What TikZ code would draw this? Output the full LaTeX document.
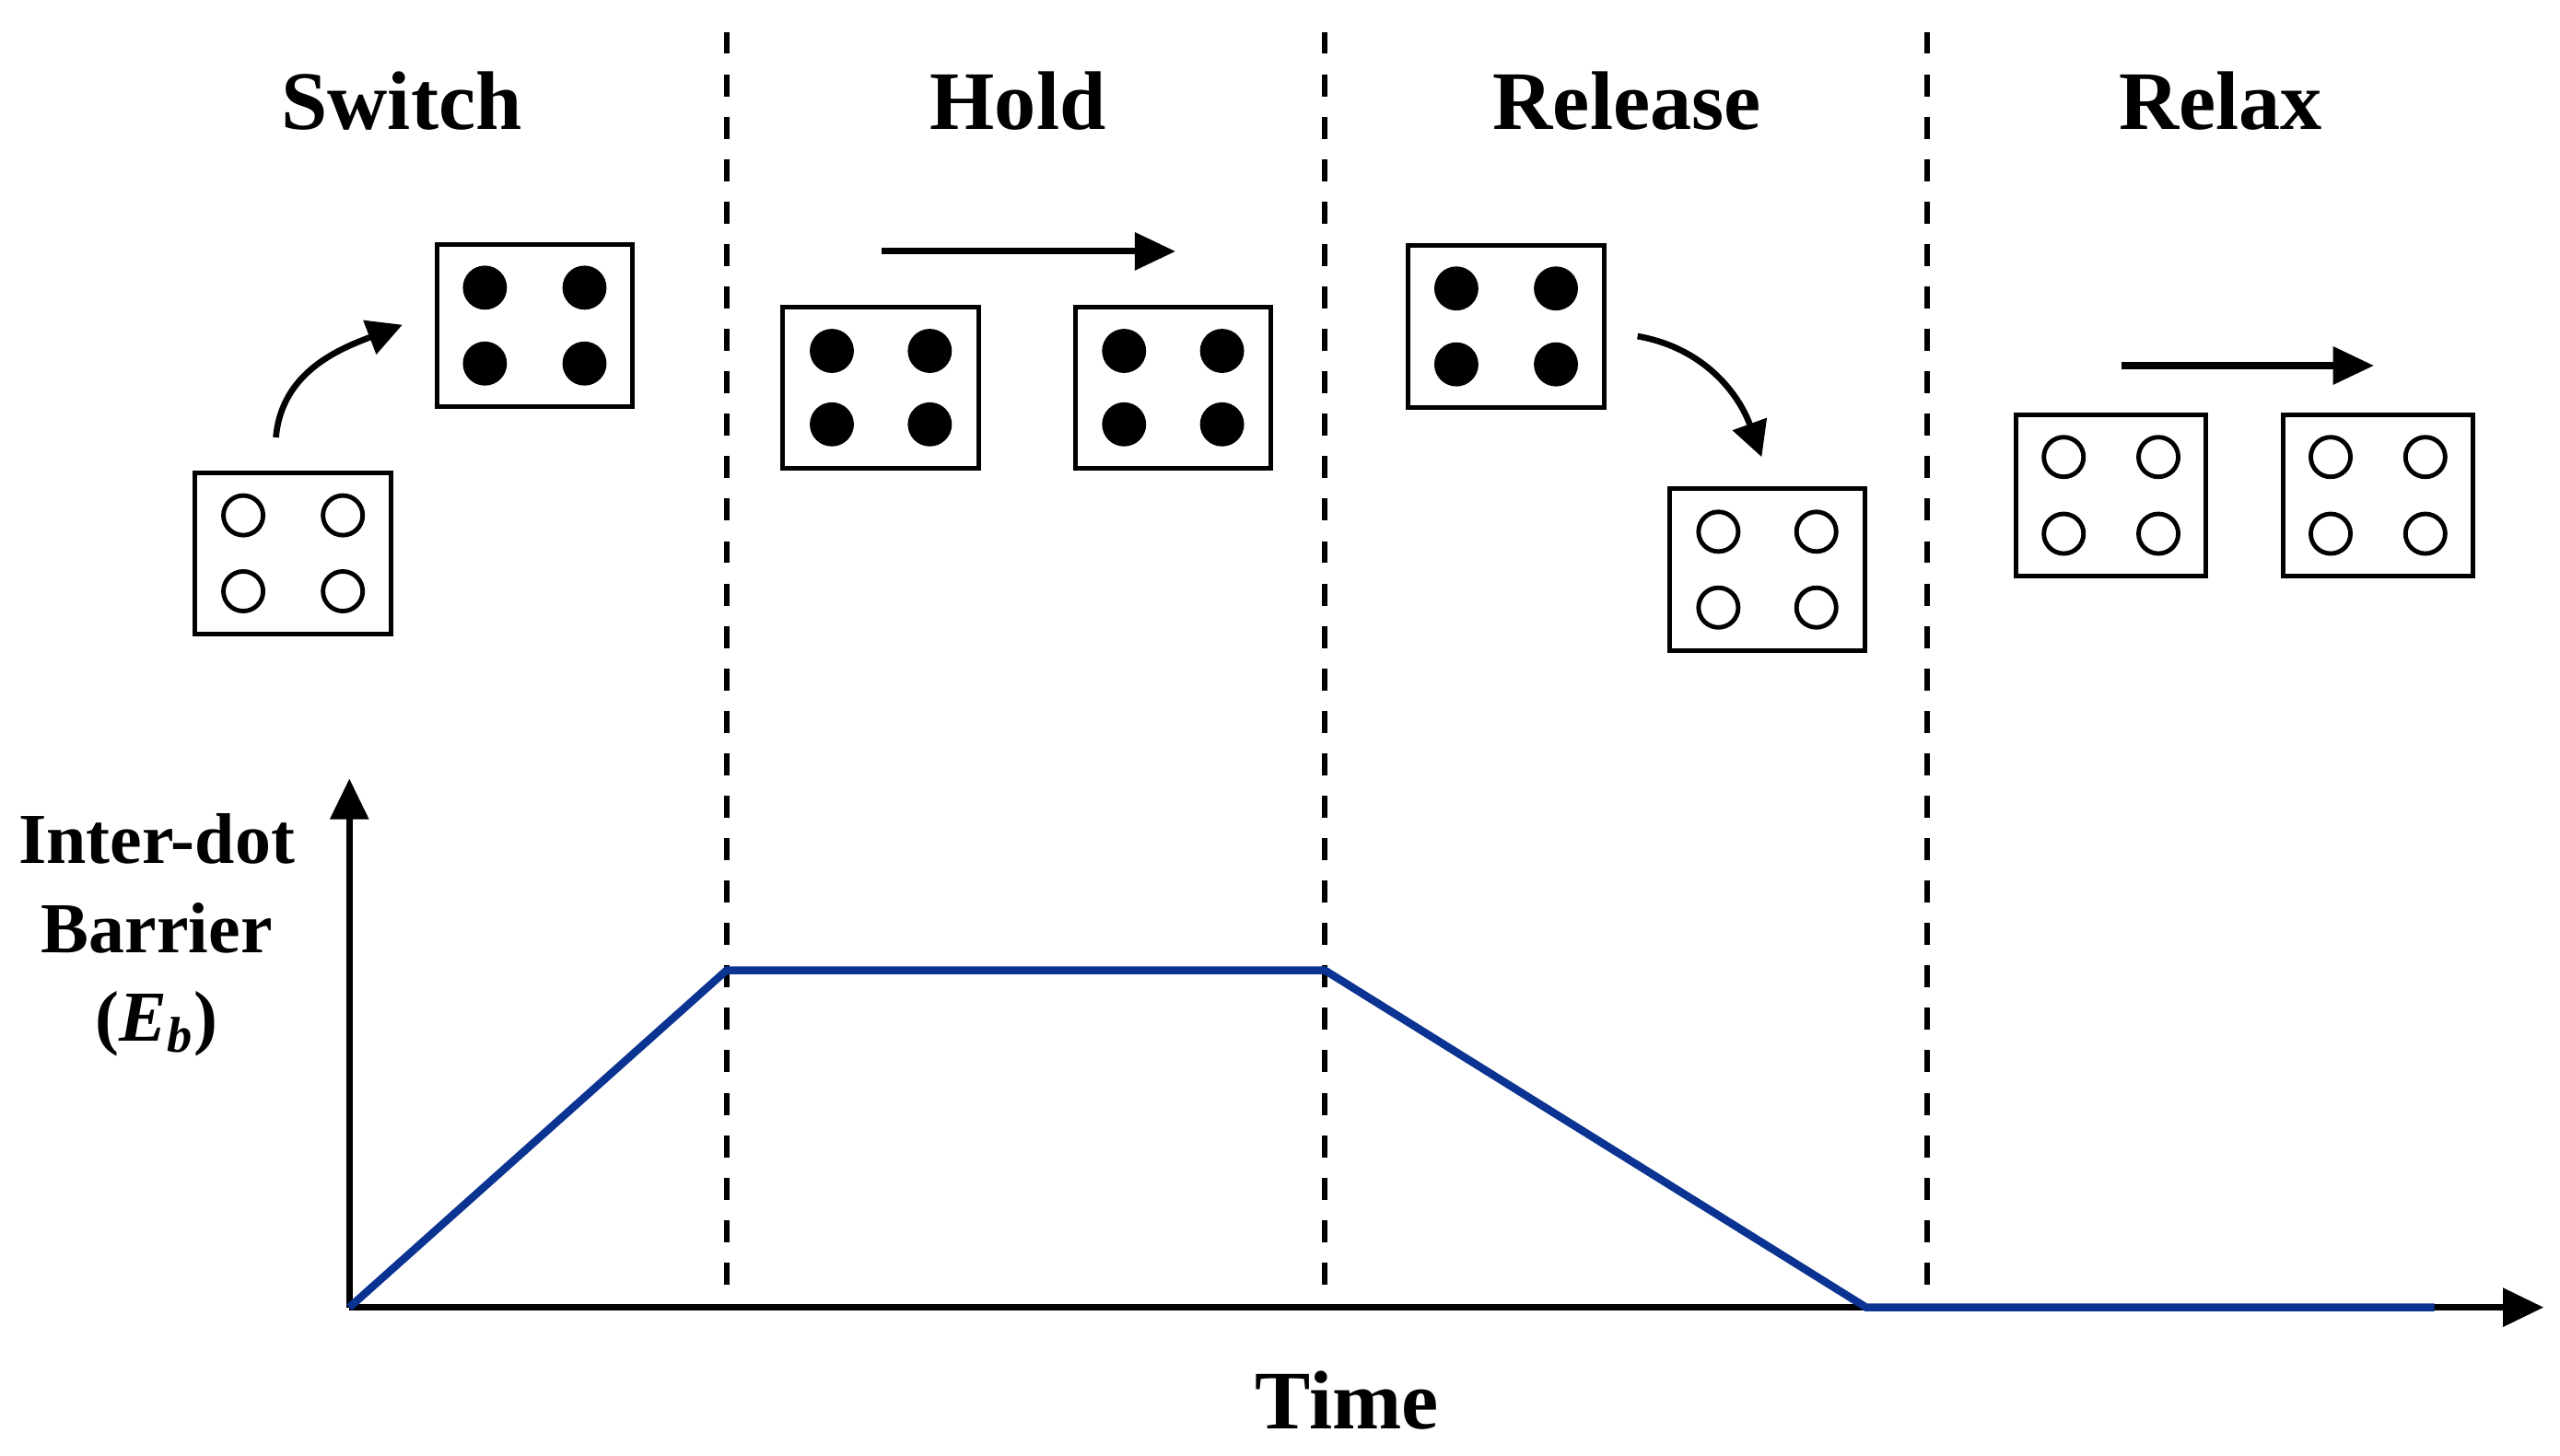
\documentclass[tikz,border=0pt]{standalone}
\usepackage{fontspec}
\setmainfont{Liberation Serif}
\usetikzlibrary{calc,arrows.meta}
\definecolor{ink}{HTML}{000000}
\definecolor{barrierblue}{HTML}{0B3391}
\tikzset{
  dotbox/.style={
    draw=ink,
    line width=0.056cm,
    minimum width=2.40cm,
    minimum height=1.98cm,
    inner sep=0pt
  },
  slimbox/.style={
    dotbox,
    minimum width=2.32cm
  },
  fulldot/.style={
    fill=ink,
    radius=0.27cm
  },
  emptydot/.style={
    draw=ink,
    line width=0.055cm,
    radius=0.243cm
  },
  phasetitle/.style={
    font=\bfseries\fontsize{29}{34}\selectfont,
    text=ink
  },
  axislabel/.style={
    font=\bfseries\fontsize{25}{31}\selectfont,
    text=ink,
    align=center
  },
  phaseline/.style={
    draw=ink,
    line width=0.065cm,
    dash pattern=on 0.27cm off 0.25cm
  },
  axisline/.style={
    draw=ink,
    line width=0.08cm,
    -{Triangle[length=0.5cm,width=0.46cm]}
  },
  movearrow/.style={
    draw=ink,
    line width=0.08cm,
    -{Triangle[length=0.5cm,width=0.45cm]}
  },
  turnarrow/.style={
    draw=ink,
    line width=0.075cm,
    -{Triangle[length=0.43cm,width=0.43cm]}
  },
  barrier/.style={
    draw=barrierblue,
    line width=0.095cm
  }
}

\begin{document}
\begin{tikzpicture}[x=1cm,y=1cm]

% Background
\fill[white] (0,0) rectangle (31.36,17.84);
\useasboundingbox (0,0) rectangle (31.36,17.84);

% Phase titles
\node[phasetitle] (tSwitch)  at (4.92,16.60)  {Switch};
\node[phasetitle] (tHold)    at (12.47,16.60) {Hold};
\node[phasetitle] (tRelease) at (19.93,16.60) {Release};
\node[phasetitle] (tRelax)   at (27.20,16.60) {Relax};

% Phase borders
\foreach \x/\name in {8.90/bA, 16.23/bB, 23.61/bC}{
  \coordinate (\name top) at (\x,17.45);
  \coordinate (\name bot) at (\x,2.04);
  \draw[phaseline] (\name top) -- (\name bot);
}

% ---------- Dot cells ----------
\node[dotbox]  (swOff)  at (3.59,11.06)  {};
\node[dotbox]  (swOn)   at (6.55,13.85)  {};
\node[dotbox]  (holdL)  at (10.79,13.09) {};
\node[dotbox]  (holdR)  at (14.37,13.09) {};
\node[dotbox]  (relOn)  at (18.45,13.84) {};
\node[dotbox]  (relOff) at (21.65,10.86) {};
\node[slimbox] (rlxL)   at (25.86,11.77) {};
\node[slimbox] (rlxR)   at (29.13,11.77) {};

\foreach \b/\sx/\sy/\kind in {
  swOff/0.61/0.465/emptydot,
  swOn/0.61/0.465/fulldot,
  holdL/0.60/0.45/fulldot,
  holdR/0.60/0.45/fulldot,
  relOn/0.61/0.465/fulldot,
  relOff/0.60/0.465/emptydot,
  rlxL/0.58/0.47/emptydot,
  rlxR/0.58/0.47/emptydot}{
  \foreach \i in {-1,1}{
    \foreach \j in {-1,1}{
      \path[\kind] ($(\b)+(\i*\sx,\j*\sy)$) circle;
    }
  }
}

% ---------- Arrows between cells ----------
\coordinate (swFrom) at (3.38,12.48);
\coordinate (swTo)   at (4.93,13.86);
\draw[turnarrow] (swFrom) to[out=85,in=201] (swTo);

\coordinate (holdFrom) at (10.80,14.76);
\coordinate (holdTo)   at (14.40,14.76);
\draw[movearrow] (holdFrom) -- (holdTo);

\coordinate (relFrom) at (20.06,13.72);
\coordinate (relTo)   at (21.58,12.24);
\draw[turnarrow] (relFrom) to[out=-10,in=110] (relTo);

\coordinate (rlxFrom) at (25.99,13.36);
\coordinate (rlxTo)   at (29.08,13.36);
\draw[movearrow] (rlxFrom) -- (rlxTo);

% ---------- Barrier plot ----------
\coordinate (O)    at (4.28,1.82);
\coordinate (yTip) at (4.28,8.30);
\coordinate (xTip) at (31.16,1.82);
\draw[axisline] (O) -- (yTip);
\draw[axisline] (O) -- (xTip);

\coordinate (holdStart) at (8.90,5.95);
\coordinate (holdEnd)   at (16.23,5.95);
\coordinate (lowStart)  at (22.86,1.82);
\coordinate (lowEnd)    at (29.82,1.82);
\draw[barrier] (O) -- (holdStart) -- (holdEnd) -- (lowStart) -- (lowEnd);

\node[axislabel] (ebLabel) at (1.92,6.38)
  {Inter-dot\\Barrier\\({\itshape E\textsubscript{b}})};
\node[phasetitle] (timeLabel) at (16.50,0.68) {Time};

\end{tikzpicture}
\end{document}
